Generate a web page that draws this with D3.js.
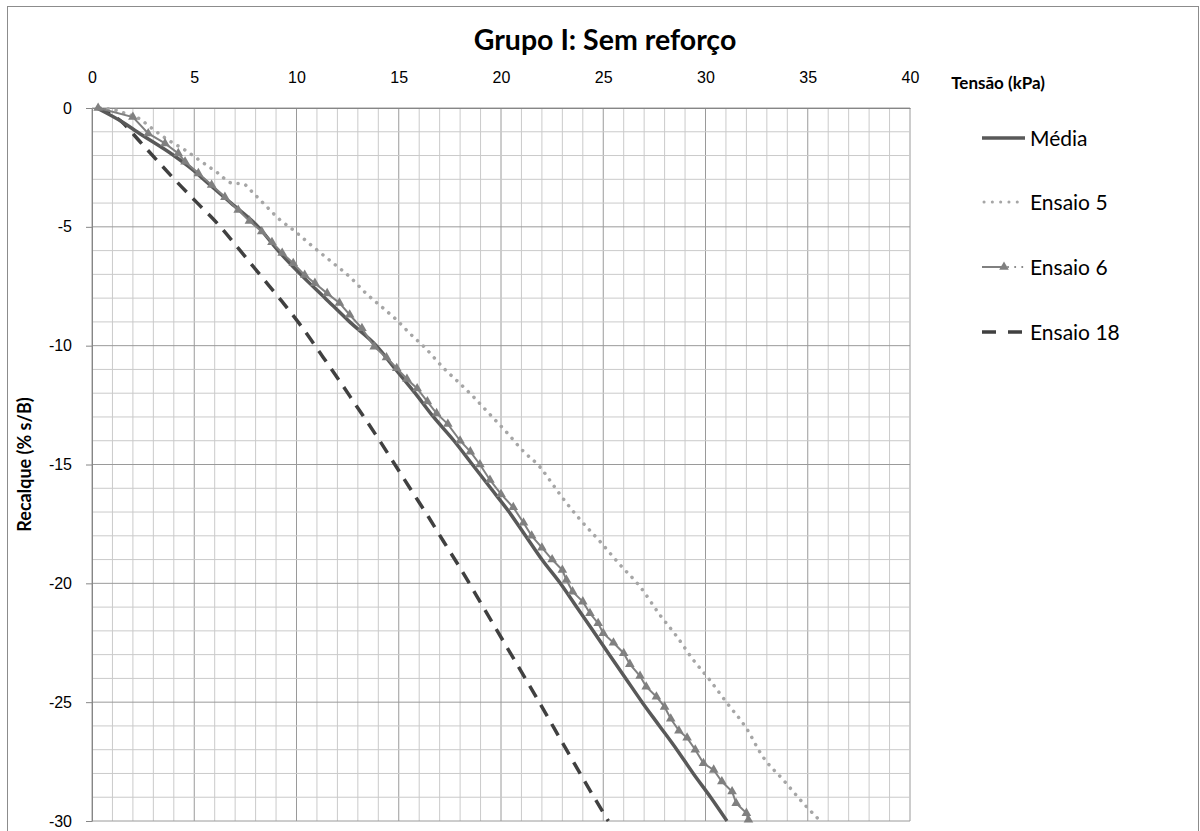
<!DOCTYPE html>
<html>
<head>
<meta charset="utf-8">
<script src="https://cdn.jsdelivr.net/npm/d3@7"></script>
<style>
  body { margin: 0; background: #fff; }
  svg { display: block; font-family: Lato, "Open Sans", sans-serif; }
</style>
</head>
<body>
<div id="chart"></div>
<script>
// Grupo I: Sem reforço — tensão (kPa) x recalque (% s/B)
const seriesNames = ["Média", "Ensaio 5", "Ensaio 6", "Ensaio 18"];

const tensaoMedia = [0.23, 1.6, 2.2, 4.0, 5.04, 5.45, 6.8, 8.13, 9.1, 10.2, 11.4, 12.6, 13.9, 14.85, 15.8, 16.7,
  17.7, 18.6, 19.5, 20.4, 21.2, 22.0, 22.9, 23.7, 24.5, 25.3, 26.1, 26.9, 27.75, 28.6, 29.4, 30.25, 31.05];
const recalqueMedia = [0, -0.65, -1, -2, -2.68, -3, -4, -5, -6, -7, -8, -9, -10, -11, -12, -13,
  -14, -15, -16, -17, -18, -19, -20, -21, -22, -23, -24, -25, -26, -27, -28, -29, -30];

const tensaoE5 = [0.4, 1.12, 1.61, 2.27, 2.92, 3.73, 4.55, 5.36, 6.18, 6.8, 7.4, 7.9, 8.54, 9.2, 9.84, 10.8,
  11.8, 12.6, 13.4, 14.25, 14.9, 15.5, 16.3, 17.2, 18.0, 18.65, 19.4, 20.28, 21.1, 21.9, 22.5, 23.05,
  23.9, 24.84, 25.8, 26.8, 27.77, 28.6, 29.4, 30.2, 31.0, 32.0, 32.8, 33.8, 34.78, 35.5];
const recalqueE5 = [0, -0.08, -0.22, -0.43, -0.85, -1.35, -1.77, -2.26, -2.75, -3.15, -3.2, -3.59, -4.15, -4.71, -5.13, -5.83,
  -6.53, -7.1, -7.8, -8.43, -8.92, -9.45, -10.1, -10.95, -11.6, -12.15, -12.84, -13.65, -14.45, -15.1, -15.8, -16.45,
  -17.35, -18.24, -19.2, -20.14, -21.33, -22.24, -23.22, -24.06, -24.98, -26.1, -27.29, -28.27, -29.25, -29.9];

const tensaoE6 = [0.3, 2.0, 2.75, 3.57, 4.22, 4.55, 5.2, 5.85, 6.5, 7.15, 7.7, 8.3, 8.8, 9.3, 9.84, 10.4,
  10.9, 11.5, 12.1, 12.6, 13.2, 13.8, 14.4, 14.9, 15.4, 15.9, 16.4, 16.85, 17.4, 18.0, 18.5, 18.97,
  19.46, 20.0, 20.6, 21.1, 21.5, 22.0, 22.5, 23.0, 23.2, 23.5, 24.0, 24.35, 24.75, 25.0, 25.5, 26.0,
  26.3, 26.8, 27.1, 27.6, 28.0, 28.3, 28.7, 29.1, 29.5, 29.9, 30.4, 30.8, 31.3, 31.5, 32.0, 32.1];
const recalqueE6 = [0, -0.38, -1.07, -1.49, -1.91, -2.26, -2.75, -3.24, -3.75, -4.29, -4.75, -5.2, -5.65, -6.1, -6.53, -7.03,
  -7.37, -7.8, -8.2, -8.7, -9.27, -10.04, -10.5, -10.95, -11.4, -11.8, -12.35, -12.85, -13.3, -14.0, -14.46, -15.0,
  -15.65, -16.25, -16.8, -17.45, -18.0, -18.5, -19.0, -19.44, -19.86, -20.35, -20.77, -21.26, -21.68, -22.1, -22.5, -22.94,
  -23.4, -23.9, -24.35, -24.77, -25.2, -25.7, -26.2, -26.5, -27.0, -27.57, -27.85, -28.34, -28.76, -29.25, -29.67, -29.95];

const tensaoE18 = [0.3, 1.45, 2.35, 3.24, 4.14, 5.12, 6.26, 7.2, 8.2, 9.3, 10.25, 11.15, 12.04, 12.94, 13.84, 14.7,
  15.55, 16.45, 17.2, 18.0, 19.2, 20.4, 21.8, 23.2, 24.55, 25.25];
const recalqueE18 = [0, -0.58, -1.42, -2.26, -3.1, -3.97, -4.98, -5.95, -7.0, -8.15, -9.2, -10.3, -11.4, -12.55, -13.7, -14.85,
  -16.0, -17.2, -18.25, -19.35, -21.1, -22.85, -24.9, -27.0, -29.0, -30];

const xTicks = [0, 5, 10, 15, 20, 25, 30, 35, 40];
const yTicks = [0, -5, -10, -15, -20, -25, -30];

const W = 1200, H = 831;
const plot = { left: 92, right: 910, top: 108, bottom: 821 };

const svg = d3.select("#chart").append("svg")
  .attr("width", W).attr("height", H);

// moldura do gráfico
svg.append("rect")
  .attr("x", 7.5).attr("y", 6.5)
  .attr("width", 1191).attr("height", 900)
  .attr("fill", "#fff").attr("stroke", "#8c8c8c").attr("stroke-width", 1);

const x = d3.scaleLinear().domain([0, 40]).range([plot.left, plot.right]);
const y = d3.scaleLinear().domain([0, -30]).range([plot.top, plot.bottom]);

// grade secundária e principal
const grid = svg.append("g");
grid.selectAll(".v").data(d3.range(0, 41)).join("line")
  .attr("x1", d => x(d)).attr("x2", d => x(d))
  .attr("y1", plot.top).attr("y2", plot.bottom)
  .attr("stroke", d => d % 5 === 0 ? "#9a9a9a" : "#cacaca").attr("stroke-width", 1);
grid.selectAll(".h").data(d3.range(0, -31, -1)).join("line")
  .attr("y1", d => y(d)).attr("y2", d => y(d))
  .attr("x1", plot.left).attr("x2", plot.right)
  .attr("stroke", d => d % 5 === 0 ? "#9a9a9a" : "#cacaca").attr("stroke-width", 1);

// eixos
const xAxis = svg.append("g")
  .attr("transform", `translate(0,${plot.top})`)
  .call(d3.axisTop(x).tickValues(xTicks).tickSize(0).tickPadding(25).tickFormat(d => String(d)));
xAxis.select(".domain").attr("stroke", "#868686");
xAxis.selectAll("text").attr("font-size", 16).attr("fill", "#000");

const yAxis = svg.append("g")
  .attr("transform", `translate(${plot.left},0)`)
  .call(d3.axisLeft(y).tickValues(yTicks).tickSizeInner(6).tickSizeOuter(0).tickPadding(14).tickFormat(d => String(d)));
yAxis.select(".domain").attr("stroke", "#868686");
yAxis.selectAll("line").attr("stroke", "#868686");
yAxis.selectAll("text").attr("font-size", 16).attr("fill", "#000");

// títulos
svg.append("text")
  .attr("x", 605).attr("y", 50)
  .attr("text-anchor", "middle")
  .attr("font-size", 28.5).attr("font-weight", "bold")
  .text("Grupo I: Sem reforço");

svg.append("text")
  .attr("x", 1045).attr("y", 89)
  .attr("text-anchor", "end")
  .attr("font-size", 17).attr("font-weight", "bold")
  .text("Tensão (kPa)");

svg.append("text")
  .attr("transform", `translate(31,${(plot.top + plot.bottom) / 2}) rotate(-90)`)
  .attr("text-anchor", "middle")
  .attr("font-size", 18).attr("font-weight", "bold")
  .text("Recalque (% s/B)");

// séries
const line = d3.line().x(d => x(d[0])).y(d => y(d[1]));
const zip = (a, b) => a.map((v, i) => [v, b[i]]);

const dataMedia = zip(tensaoMedia, recalqueMedia);
const dataE5 = zip(tensaoE5, recalqueE5);
const dataE6 = zip(tensaoE6, recalqueE6);
const dataE18 = zip(tensaoE18, recalqueE18);

const series = svg.append("g");

series.append("path").datum(dataE5)
  .attr("d", line.curve(d3.curveMonotoneX))
  .attr("fill", "none").attr("stroke", "#a6a6a6")
  .attr("stroke-width", 3.5).attr("stroke-linecap", "round")
  .attr("stroke-dasharray", "0.1,7.9");

series.append("path").datum(dataE18)
  .attr("d", line.curve(d3.curveMonotoneX))
  .attr("fill", "none").attr("stroke", "#404040")
  .attr("stroke-width", 3.5).attr("stroke-dasharray", "13,9");

series.append("path").datum(dataMedia)
  .attr("d", line.curve(d3.curveMonotoneX))
  .attr("fill", "none").attr("stroke", "#595959")
  .attr("stroke-width", 3.5);

series.append("path").datum(dataE6)
  .attr("d", line.curve(d3.curveLinear))
  .attr("fill", "none").attr("stroke", "#808080")
  .attr("stroke-width", 2);

const tri = d3.symbol().type(d3.symbolTriangle).size(40);
series.selectAll(".m6").data(dataE6).join("path")
  .attr("transform", d => `translate(${x(d[0])},${y(d[1])})`)
  .attr("d", tri())
  .attr("fill", "#808080");

// legenda
const legendY = [138, 202, 267, 332];
const lg = svg.append("g");
lg.append("line").attr("x1", 982).attr("x2", 1025).attr("y1", legendY[0]).attr("y2", legendY[0])
  .attr("stroke", "#595959").attr("stroke-width", 3.5);
lg.append("line").attr("x1", 984).attr("x2", 1025).attr("y1", legendY[1]).attr("y2", legendY[1])
  .attr("stroke", "#a6a6a6").attr("stroke-width", 3).attr("stroke-linecap", "round")
  .attr("stroke-dasharray", "0.1,8.2");
lg.append("line").attr("x1", 982).attr("x2", 1002).attr("y1", legendY[2]).attr("y2", legendY[2])
  .attr("stroke", "#808080").attr("stroke-width", 2);
lg.append("line").attr("x1", 1008).attr("x2", 1025).attr("y1", legendY[2]).attr("y2", legendY[2])
  .attr("stroke", "#808080").attr("stroke-width", 2).attr("stroke-linecap", "round")
  .attr("stroke-dasharray", "0.1,7");
lg.append("path").attr("transform", `translate(1004,${legendY[2]})`).attr("d", tri()).attr("fill", "#808080");
lg.append("line").attr("x1", 982).attr("x2", 1025).attr("y1", legendY[3]).attr("y2", legendY[3])
  .attr("stroke", "#404040").attr("stroke-width", 3.5).attr("stroke-dasharray", "14,12");

lg.selectAll("text").data(seriesNames).join("text")
  .attr("x", 1030).attr("y", (d, i) => legendY[i])
  .attr("dy", "0.36em")
  .attr("font-size", 21).attr("fill", "#000")
  .text(d => d);
</script>
</body>
</html>
